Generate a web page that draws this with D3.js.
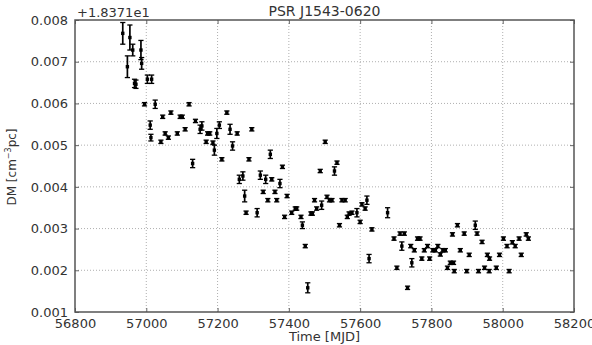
<!DOCTYPE html>
<html>
<head>
<meta charset="utf-8">
<script src="https://cdn.jsdelivr.net/npm/d3@7"></script>
<style>
  body { margin: 0; background: #fff; }
  svg { font-family: "DejaVu Sans", sans-serif; }
</style>
</head>
<body>
<div id="chart"></div>
<script>
// DM offsets from +1.8371e1
const mjd = [
  56934, 56954, 56962, 56947, 56985, 56987, 56967, 56971, 57003, 57015,
  56995, 57025, 57120, 57046, 57069, 57095, 57101, 57011, 57013, 57041,
  57053, 57062, 57087, 57109, 57138, 57151, 57156, 57172, 57178, 57168,
  57130, 57187, 57191, 57198, 57205, 57226, 57235, 57255, 57296, 57212,
  57242, 57288, 57348, 57382, 57261, 57271, 57320, 57335, 57352, 57375,
  57276, 57328, 57361, 57341, 57366, 57395, 57280, 57311, 57388, 57408,
  57418, 57422, 57434, 57438, 57446, 57453, 57462, 57466, 57472, 57478,
  57492, 57507, 57514, 57521, 57502, 57488, 57528, 57535, 57542, 57549,
  57558, 57564, 57569, 57577, 57591, 57600, 57605, 57614, 57619, 57625,
  57633, 57677, 57695, 57703, 57712, 57724, 57717, 57733, 57742, 57752,
  57745, 57761, 57768, 57773, 57780, 57789, 57795, 57804, 57811, 57818,
  57825, 57832, 57839, 57845, 57853, 57862, 57864, 57859, 57873, 57881,
  57892, 57899, 57906, 57923, 57928, 57932, 57942, 57949, 57957, 57963,
  57962, 57982, 57991, 58002, 58012, 58018, 58027, 58035, 58046, 58052,
  58066, 58072
];
const dm = [
  0.00768, 0.00758, 0.00728, 0.00688, 0.00728, 0.00696, 0.00648, 0.00646, 0.00658, 0.00658,
  0.00598, 0.00598, 0.00598, 0.00568, 0.00578, 0.00568, 0.00568, 0.00548, 0.00518, 0.00508,
  0.00528, 0.00518, 0.00528, 0.00538, 0.00558, 0.00538, 0.00546, 0.00528, 0.00528, 0.00508,
  0.00456, 0.00506, 0.00488, 0.00528, 0.00548, 0.00578, 0.00538, 0.00528, 0.00538, 0.00466,
  0.00498, 0.00466, 0.00478, 0.00448, 0.00418, 0.00426, 0.00428, 0.00418, 0.00418, 0.00408,
  0.00378, 0.00388, 0.00388, 0.00368, 0.00368, 0.00378, 0.00338, 0.00338, 0.00328, 0.00338,
  0.00348, 0.00348, 0.00328, 0.00308, 0.00258, 0.00158, 0.00336, 0.00336, 0.00368, 0.00348,
  0.00356, 0.00376, 0.00368, 0.00368, 0.00508, 0.00438, 0.00438, 0.00458, 0.00308, 0.00368,
  0.00368, 0.00328, 0.00336, 0.00338, 0.00338, 0.00316, 0.00358, 0.00348, 0.00368, 0.00228,
  0.00298, 0.00338, 0.00276, 0.00206, 0.00288, 0.00288, 0.00258, 0.00158, 0.00258, 0.00248,
  0.00218, 0.00276, 0.00276, 0.00228, 0.00248, 0.00258, 0.00228, 0.00248, 0.00248, 0.00258,
  0.00238, 0.00248, 0.00248, 0.00206, 0.00218, 0.00218, 0.00198, 0.00286, 0.00308, 0.00248,
  0.00288, 0.00198, 0.00237, 0.00308, 0.00288, 0.00198, 0.00268, 0.00206, 0.00237, 0.00228,
  0.00198, 0.00206, 0.00237, 0.00276, 0.00258, 0.00198, 0.00267, 0.00258, 0.00276, 0.00237,
  0.00286, 0.00276
];
const dmErr = [
  0.00026, 0.00030, 0.00014, 0.00026, 0.00023, 0.00014, 0.00010, 0.00010, 0.00010, 0.00010,
  0.00004, 0.00010, 0.00004, 0.00004, 0.00004, 0.00004, 0.00004, 0.00010, 0.00008, 0.00004,
  0.00004, 0.00004, 0.00004, 0.00004, 0.00004, 0.00010, 0.00010, 0.00004, 0.00004, 0.00004,
  0.00010, 0.00004, 0.00012, 0.00012, 0.00008, 0.00004, 0.00012, 0.00004, 0.00004, 0.00004,
  0.00010, 0.00004, 0.00010, 0.00004, 0.00010, 0.00010, 0.00010, 0.00010, 0.00004, 0.00010,
  0.00014, 0.00004, 0.00004, 0.00004, 0.00004, 0.00004, 0.00004, 0.00010, 0.00004, 0.00004,
  0.00004, 0.00004, 0.00004, 0.00008, 0.00004, 0.00012, 0.00004, 0.00004, 0.00004, 0.00004,
  0.00010, 0.00004, 0.00004, 0.00004, 0.00004, 0.00004, 0.00010, 0.00004, 0.00004, 0.00004,
  0.00004, 0.00004, 0.00004, 0.00004, 0.00010, 0.00004, 0.00004, 0.00004, 0.00010, 0.00010,
  0.00004, 0.00012, 0.00004, 0.00004, 0.00004, 0.00004, 0.00010, 0.00004, 0.00004, 0.00004,
  0.00010, 0.00004, 0.00004, 0.00004, 0.00004, 0.00004, 0.00004, 0.00004, 0.00004, 0.00004,
  0.00004, 0.00004, 0.00004, 0.00004, 0.00004, 0.00004, 0.00004, 0.00004, 0.00004, 0.00004,
  0.00004, 0.00004, 0.00004, 0.00010, 0.00004, 0.00004, 0.00004, 0.00004, 0.00004, 0.00004,
  0.00004, 0.00004, 0.00004, 0.00004, 0.00004, 0.00004, 0.00004, 0.00004, 0.00004, 0.00004,
  0.00004, 0.00004
];
const xTicks = [56800, 57000, 57200, 57400, 57600, 57800, 58000, 58200];
const yTicks = [0.001, 0.002, 0.003, 0.004, 0.005, 0.006, 0.007, 0.008];

const width = 592, height = 345;
const margin = { top: 20, right: 18, bottom: 33, left: 75 };
const iw = width - margin.left - margin.right;
const ih = height - margin.top - margin.bottom;

const svg = d3.select('#chart').append('svg')
  .attr('width', width).attr('height', height);
const g = svg.append('g').attr('transform', `translate(${margin.left},${margin.top})`);

const x = d3.scaleLinear().domain([56800, 58200]).range([0, iw]);
const y = d3.scaleLinear().domain([0.001, 0.008]).range([ih, 0]);

// dotted grid
g.append('g').selectAll('line').data(xTicks.slice(1, -1)).enter().append('line')
  .attr('x1', d => x(d)).attr('x2', d => x(d)).attr('y1', 0).attr('y2', ih)
  .attr('stroke', '#9a9a9a').attr('stroke-width', 0.8).attr('stroke-dasharray', '1,2');
g.append('g').selectAll('line').data(yTicks.slice(1, -1)).enter().append('line')
  .attr('y1', d => y(d)).attr('y2', d => y(d)).attr('x1', 0).attr('x2', iw)
  .attr('stroke', '#9a9a9a').attr('stroke-width', 0.8).attr('stroke-dasharray', '1,2');

// axes with inward ticks
g.append('g').attr('transform', `translate(0,${ih})`)
  .call(d3.axisBottom(x).tickValues(xTicks).tickFormat(d3.format('d')).tickSizeInner(-4).tickSizeOuter(0).tickPadding(7));
g.append('g')
  .call(d3.axisLeft(y).tickValues(yTicks).tickFormat(d3.format('.3f')).tickSizeInner(-4).tickSizeOuter(0).tickPadding(7));
g.append('g').call(d3.axisTop(x).tickValues(xTicks).tickFormat('').tickSizeInner(-4).tickSizeOuter(0));
g.append('g').attr('transform', `translate(${iw},0)`)
  .call(d3.axisRight(y).tickValues(yTicks).tickFormat('').tickSizeInner(-4).tickSizeOuter(0));
g.selectAll('.domain').remove();
g.selectAll('.tick line').attr('stroke', '#666');
g.selectAll('.tick text').attr('font-size', 13).attr('fill', '#333')
  .attr('font-family', '"DejaVu Sans", sans-serif');

// frame
g.append('rect').attr('width', iw).attr('height', ih)
  .attr('fill', 'none').attr('stroke', '#555').attr('stroke-width', 1.5);

// error bars
const pts = mjd.map((d, i) => ({ t: d, v: dm[i], e: dmErr[i] }));
const eb = g.append('g').attr('stroke', '#000');
pts.forEach(p => {
  const cx = x(p.t), top = y(p.v + p.e), bot = y(p.v - p.e);
  eb.append('line').attr('x1', cx).attr('x2', cx).attr('y1', top).attr('y2', bot).attr('stroke-width', 1.7);
  eb.append('line').attr('x1', cx - 2.6).attr('x2', cx + 2.6).attr('y1', top).attr('y2', top).attr('stroke-width', 1.3);
  eb.append('line').attr('x1', cx - 2.6).attr('x2', cx + 2.6).attr('y1', bot).attr('y2', bot).attr('stroke-width', 1.3);
});
g.append('g').selectAll('rect').data(pts).enter().append('rect')
  .attr('x', d => x(d.t) - 1.7).attr('y', d => y(d.v) - 1.7)
  .attr('width', 3.4).attr('height', 3.4).attr('fill', '#000');

// texts
svg.append('text').attr('x', margin.left + iw / 2).attr('y', 16)
  .attr('text-anchor', 'middle').attr('font-size', 14).attr('fill', '#333').text('PSR J1543-0620');
svg.append('text').attr('x', margin.left + 2).attr('y', 17)
  .attr('font-size', 13).attr('fill', '#333').text('+1.8371e1');
svg.append('text').attr('x', margin.left + iw / 2).attr('y', 341)
  .attr('text-anchor', 'middle').attr('font-size', 13).attr('fill', '#333').text('Time [MJD]');
const yl = svg.append('text').attr('transform', 'translate(16,167) rotate(-90)')
  .attr('text-anchor', 'middle').attr('font-size', 12).attr('fill', '#333');
yl.append('tspan').text('DM [cm');
yl.append('tspan').attr('font-size', 8).attr('dy', -5).text('\u22123');
yl.append('tspan').attr('dy', 5).text('pc]');
</script>
</body>
</html>
